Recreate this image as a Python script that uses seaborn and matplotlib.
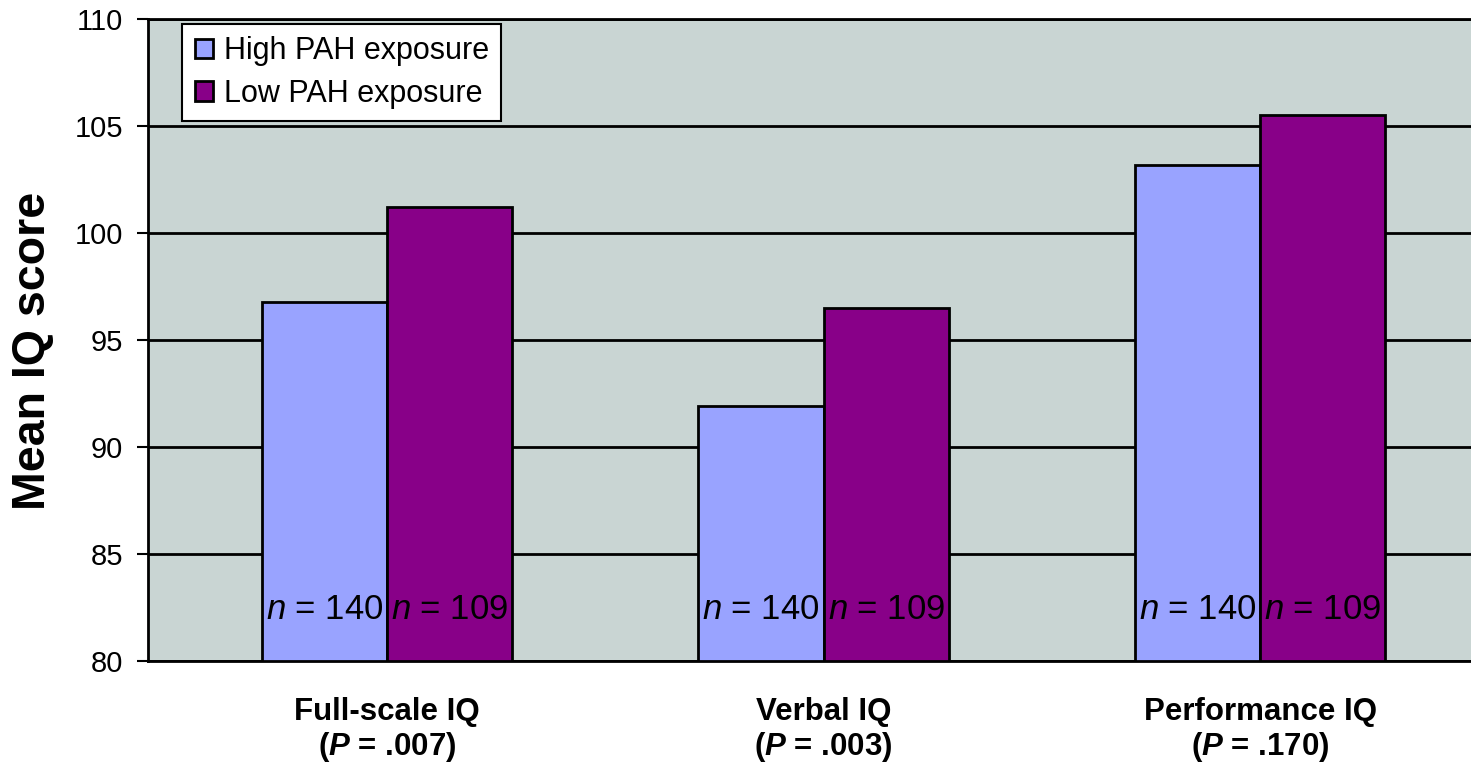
import pandas as pd
import matplotlib
matplotlib.use("Agg")
import matplotlib.pyplot as plt
import seaborn as sns
from matplotlib.patches import Patch

# values
categories = ["Full-scale IQ", "Verbal IQ", "Performance IQ"]
p_values = [".007", ".003", ".170"]
groups = ["High PAH exposure", "Low PAH exposure"]
high_iq = [96.8, 91.9, 103.2]
low_iq = [101.2, 96.5, 105.5]
n_high = 140
n_low = 109

df = pd.DataFrame({
    "test": categories * 2,
    "group": [groups[0]] * 3 + [groups[1]] * 3,
    "iq": high_iq + low_iq,
})

sns.set_style("white")
plt.rcParams["font.family"] = ["Liberation Sans", "DejaVu Sans"]
plt.rcParams["text.color"] = "black"
plt.rcParams["axes.labelcolor"] = "black"
plt.rcParams["xtick.color"] = "black"
plt.rcParams["ytick.color"] = "black"
plt.rcParams["mathtext.fontset"] = "custom"
plt.rcParams["mathtext.rm"] = "Liberation Sans"
plt.rcParams["mathtext.it"] = "Liberation Sans:italic"
plt.rcParams["mathtext.bf"] = "Liberation Sans:bold"
plt.rcParams["mathtext.bfit"] = "Liberation Sans:italic:bold"

colors = {groups[0]: "#99A3FF", groups[1]: "#880088"}

fig = plt.figure(figsize=(14.71, 7.65), dpi=100)
ax = fig.add_axes([0.1006, 0.136, 0.8994, 0.839])
ax.set_facecolor("#C9D5D3")

sns.barplot(data=df, x="test", y="iq", hue="group", palette=colors,
            saturation=1, width=0.573, edgecolor="black", linewidth=2,
            ax=ax, legend=False)

ax.set_ylim(80, 110)
ax.set_xlim(-0.5475, 2.483)
ax.set_yticks(range(80, 111, 5))
ax.yaxis.grid(True, color="black", linewidth=2)
ax.set_axisbelow(True)

ax.spines["right"].set_visible(False)
for side in ["left", "bottom", "top"]:
    ax.spines[side].set_color("black")
    ax.spines[side].set_linewidth(2)

ax.tick_params(axis="y", direction="out", length=8, width=1.5, pad=10,
               labelsize=21, left=True)
ax.tick_params(axis="x", length=0, pad=26)
ax.set_xticks(range(len(categories)))
ax.set_xticklabels([f"{c}\n($\\mathbfit{{P}}$ = {p})" for c, p in zip(categories, p_values)],
                   fontsize=22.5, fontweight="bold", linespacing=1.1)
ax.set_xlabel("")
ax.set_ylabel("Mean IQ score", fontsize=33.5, fontweight="bold")
ax.yaxis.set_label_coords(-0.07, 0.483)

# n labels inside the bars
for cont, n in zip(ax.containers, [n_high, n_low]):
    for bar in cont:
        ax.text(bar.get_x() + bar.get_width() / 2, 82.4, f"$n$ = {n}",
                ha="center", va="center", fontsize=25)

handles = [Patch(facecolor=colors[g], edgecolor="black", linewidth=2) for g in groups]
leg = ax.legend(handles, groups, loc="upper left", bbox_to_anchor=(0.026, 0.992),
                fontsize=22, frameon=True, fancybox=False, framealpha=1,
                edgecolor="black", handlelength=0.6, handleheight=0.6,
                handletextpad=0.35, borderpad=0.4, labelspacing=0.4,
                borderaxespad=0)
leg.get_frame().set_linewidth(1.5)

fig.savefig("out.png", dpi=100)
